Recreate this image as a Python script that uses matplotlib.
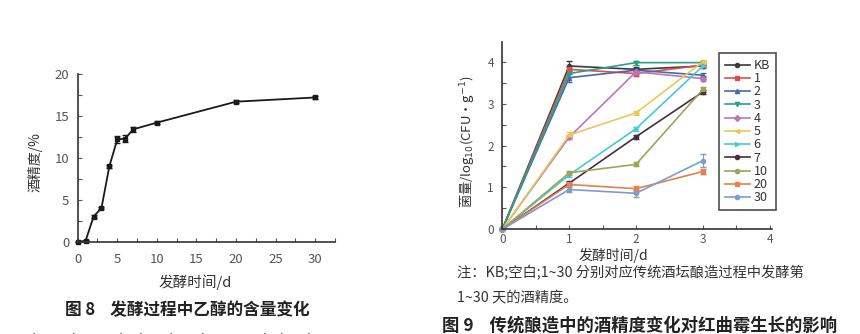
import matplotlib
matplotlib.use("Agg")
import matplotlib.pyplot as plt
from matplotlib.ticker import MultipleLocator
from matplotlib.lines import Line2D

plt.rcParams['font.family'] = ['Noto Sans CJK SC', 'DejaVu Sans']
plt.rcParams['mathtext.fontset'] = 'dejavusans'

# ---------- data: Fig 8 ----------
days8 = [0, 1, 2, 3, 4, 5, 6, 7, 10, 20, 30]
alcohol8 = [0, 0.1, 3.0, 4.0, 9.0, 12.2, 12.3, 13.4, 14.2, 16.7, 17.2]
alcohol8_err = [0, 0.1, 0.15, 0.15, 0.2, 0.4, 0.4, 0.3, 0.2, 0.2, 0.15]

# ---------- data: Fig 9 ----------
days9 = [0, 1, 2, 3]
series_labels = ['KB', '1', '2', '3', '4', '5', '6', '7', '10', '20', '30']
series_values = {
    'KB': [0, 3.90, 3.82, 3.90],
    '1':  [0, 3.82, 3.72, 3.92],
    '2':  [0, 3.62, 3.80, 3.68],
    '3':  [0, 3.72, 3.98, 3.98],
    '4':  [0, 2.20, 3.76, 3.60],
    '5':  [0, 2.25, 2.78, 4.00],
    '6':  [0, 1.30, 2.40, 3.90],
    '7':  [0, 1.10, 2.21, 3.28],
    '10': [0, 1.35, 1.55, 3.34],
    '20': [0, 1.07, 0.97, 1.38],
    '30': [0, 0.95, 0.86, 1.64],
}
series_err = {
    'KB': [0, 0.12, 0.05, 0.05],
    '1':  [0, 0.05, 0.05, 0.05],
    '2':  [0, 0.10, 0.05, 0.05],
    '3':  [0, 0.08, 0.05, 0.05],
    '4':  [0, 0.05, 0.05, 0.05],
    '5':  [0, 0.08, 0.05, 0.05],
    '6':  [0, 0.05, 0.05, 0.05],
    '7':  [0, 0.05, 0.05, 0.05],
    '10': [0, 0.05, 0.05, 0.05],
    '20': [0, 0.05, 0.06, 0.06],
    '30': [0, 0.05, 0.08, 0.15],
}
series_colors = {
    'KB': '#3a3a3a', '1': '#d8504e', '2': '#4a68a8', '3': '#2aa088',
    '4': '#b878b8', '5': '#e8c858', '6': '#48c8d8', '7': '#4a2c3c',
    '10': '#98a858', '20': '#e8804a', '30': '#7e9ccc',
}
series_markers = {
    'KB': 'o', '1': 's', '2': '^', '3': 'v', '4': 'D', '5': '<',
    '6': '>', '7': 'o', '10': 'o', '20': 's', '30': 'o',
}

W, H = 860, 334
fig = plt.figure(figsize=(W / 100, H / 100), dpi=100)

def fx(px):
    return px / W

def fy(py):
    return 1 - py / H

# ---------- left axes ----------
ax1 = fig.add_axes([fx(77.7), fy(241.7), fx(335 - 77.7), (241.7 - 74) / H])
ax1.errorbar(days8, alcohol8, yerr=alcohol8_err, color='#1a1a1a', lw=1.3,
             marker='s', ms=3.5, capsize=2, elinewidth=0.8, clip_on=False)
ax1.set_xlim(0, 32.5)
ax1.set_ylim(0, 20)
ax1.spines['top'].set_visible(False)
ax1.spines['right'].set_visible(False)
for s in ('left', 'bottom'):
    ax1.spines[s].set_linewidth(1.2)
    ax1.spines[s].set_color('#333333')
ax1.xaxis.set_minor_locator(MultipleLocator(2.5))
ax1.set_xticks([0, 5, 10, 15, 20, 25, 30])
ax1.yaxis.set_major_locator(MultipleLocator(5))
ax1.yaxis.set_minor_locator(MultipleLocator(2.5))
ax1.tick_params(which='both', direction='in', length=3, width=0.8,
                labelsize=9.5, labelcolor='#555555', colors='#555555')
ax1.tick_params(axis='x', pad=8)
ax1.tick_params(axis='y', pad=6)
fig.text(fx(35), fy(162), '酒精度/%', rotation=90, ha='center', va='center',
         fontsize=10, color='#333333')
fig.text(fx(195), fy(282), '发酵时间/d', ha='center', va='center',
         fontsize=10.5, color='#333333')
fig.text(fx(65), fy(310), '图 8    发酵过程中乙醇的含量变化', ha='left',
         va='center', fontsize=12, fontweight='bold', color='#222222')
fig.text(fx(25), fy(339), 'Fig.8   Changes in the ethanol content during the',
         ha='left', va='center', fontsize=9.5, color='#333333')

# ---------- right axes ----------
ax2 = fig.add_axes([fx(502.3), fy(229.3), fx(771.7 - 502.3), (229.3 - 41.7) / H])
handles = []
for lab in series_labels:
    ax2.errorbar(days9, series_values[lab], yerr=series_err[lab],
                 color=series_colors[lab], lw=1.2,
                 marker=series_markers[lab], ms=3,
                 capsize=2, elinewidth=0.8, clip_on=False)
    handles.append(Line2D([], [], color=series_colors[lab], lw=1.2,
                          marker=series_markers[lab], ms=3))
ax2.set_xlim(0, 4.03)
ax2.set_ylim(0, 4.48)
ax2.spines['top'].set_visible(False)
ax2.spines['right'].set_visible(False)
for s in ('left', 'bottom'):
    ax2.spines[s].set_linewidth(1.2)
    ax2.spines[s].set_color('#333333')
ax2.set_xticks([0, 1, 2, 3, 4])
ax2.set_yticks([0, 1, 2, 3, 4])
ax2.xaxis.set_minor_locator(MultipleLocator(0.5))
ax2.yaxis.set_minor_locator(MultipleLocator(0.5))
ax2.tick_params(which='both', direction='in', length=3, width=0.8,
                labelsize=8.5, labelcolor='#555555', colors='#555555')
ax2.tick_params(axis='y', pad=6)
ax2.tick_params(axis='x', pad=3)
fig.text(fx(468), fy(142), '菌量/log$_{10}$(CFU·g$^{-1}$)', rotation=90,
         ha='center', va='center', fontsize=9.5, color='#333333')
fig.text(fx(613), fy(255), '发酵时间/d', ha='center', va='center',
         fontsize=10, color='#333333')
fig.text(fx(457), fy(273), '注：KB;空白;1~30 分别对应传统酒坛酿造过程中发酵第',
         ha='left', va='center', fontsize=10.3, color='#333333')
fig.text(fx(457), fy(298), '1~30 天的酒精度。', ha='left', va='center',
         fontsize=10.3, color='#333333')
fig.text(fx(442), fy(326), '图 9    传统酿造中的酒精度变化对红曲霉生长的影响',
         ha='left', va='center', fontsize=12.5, fontweight='bold',
         color='#222222')

leg = fig.legend(handles=handles, labels=series_labels, loc='upper left',
                 bbox_to_anchor=(fx(719.3), fy(53.3)), borderaxespad=0,
                 fontsize=9, labelspacing=0.02, handlelength=2.0,
                 handletextpad=0.3, borderpad=0.45, frameon=True,
                 fancybox=False)
leg.get_frame().set_edgecolor('#222222')
leg.get_frame().set_linewidth(1.2)
for t in leg.get_texts():
    t.set_color('#333333')

fig.savefig('out.png', dpi=100)
